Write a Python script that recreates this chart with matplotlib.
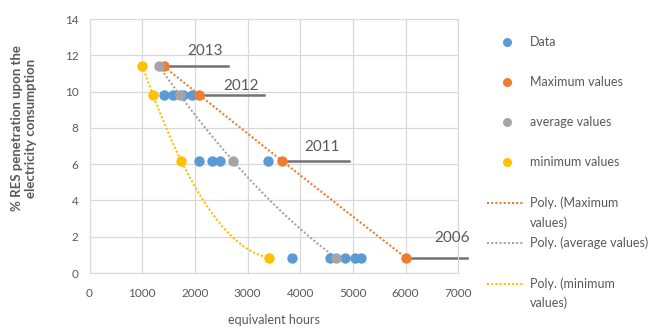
import numpy as np
import matplotlib.pyplot as plt
from matplotlib.lines import Line2D

plt.rcParams['font.family'] = ['Lato', 'DejaVu Sans']

# --- Data ---
data_x = [1420, 1591, 1780, 1951, 2078, 2330, 2482, 3381, 3843, 4564, 4848, 5044, 5152]
data_y = [9.8, 9.8, 9.8, 9.8, 6.2, 6.2, 6.2, 6.2, 0.85, 0.85, 0.85, 0.85, 0.85]

max_x = [1414, 2078, 3653, 6000]
max_y = [11.4, 9.8, 6.2, 0.85]
avg_x = [1319, 1717, 2717, 4671]
avg_y = [11.4, 9.8, 6.2, 0.85]
min_x = [1002, 1211, 1736, 3412]
min_y = [11.4, 9.8, 6.2, 0.85]

years = ['2013', '2012', '2011', '2006']
# end of leader line (x) and label centre for each year label
leader_end = [2622, 3311, 4924, 7163]
label_pos = [(2186, 12.25), (2871, 10.3), (4421, 6.95), (6873, 1.95)]

c_blue = '#5B9BD5'
c_orange = '#ED7D31'
c_gray = '#A5A5A5'
c_yellow = '#FFC000'
c_text = '#595959'

fig = plt.figure(figsize=(6.49, 3.29), dpi=100)
ax = fig.add_axes([89.5 / 649, 1 - 273 / 329, (458.3 - 89.5) / 649, (273 - 19) / 329])

# --- Polynomial (order 2) trendlines ---
for xs, ys, col in [(max_x, max_y, c_orange), (avg_x, avg_y, c_gray), (min_x, min_y, c_yellow)]:
    coef = np.polyfit(xs, ys, 2)
    xx = np.linspace(min(xs), max(xs), 200)
    ax.plot(xx, np.polyval(coef, xx), linestyle=(0, (1, 1)), color=col, lw=1.5, zorder=2)

# --- Year labels with leader lines ---
for yr, xe, (tx, ty), x0, y0 in zip(years, leader_end, label_pos, max_x, max_y):
    ax.plot([x0, xe], [y0, y0], color='#767171', lw=1.8, zorder=2, clip_on=False)
    ax.text(tx, ty, yr, color=c_text, fontsize=11, ha='center', va='center')

# --- Scatter series ---
ms = 7.5
ax.plot(data_x, data_y, 'o', color=c_blue, ms=ms, mec='none', zorder=3)
ax.plot(max_x, max_y, 'o', color=c_orange, ms=ms, mec='none', zorder=4)
ax.plot(avg_x, avg_y, 'o', color=c_gray, ms=ms, mec='none', zorder=4)
ax.plot(min_x, min_y, 'o', color=c_yellow, ms=ms, mec='none', zorder=4)

ax.set_xlim(0, 7000)
ax.set_ylim(0, 14)
ax.set_xticks(range(0, 7001, 1000))
ax.set_yticks(range(0, 15, 2))
ax.grid(True, color='#D9D9D9', lw=0.9)
ax.set_axisbelow(True)
for s in ax.spines.values():
    s.set_color('#D9D9D9')
ax.tick_params(length=0, colors=c_text, labelsize=8.5)
ax.tick_params(axis='x', pad=11)
ax.tick_params(axis='y', pad=8)

fig.text(274 / 649, 1 - 320 / 329, 'equivalent hours', color=c_text, fontsize=9,
         ha='center', va='center')
fig.text(24 / 649, 1 - 128 / 329, '% RES penetration upon the\nelectricity consumption',
         color=c_text, fontsize=9.5, fontweight='bold', rotation=90,
         ha='center', va='center', multialignment='center')

# --- Legend (drawn by hand to follow the original layout) ---
def fy(py):
    return 1 - py / 329

marker_entries = [('Data', c_blue, 41.7), ('Maximum values', c_orange, 82.3),
                  ('average values', c_gray, 122.3), ('minimum values', c_yellow, 162.3)]
for label, col, py in marker_entries:
    fig.add_artist(Line2D([507 / 649], [fy(py)], marker='o', color=col, ms=6.5, mec='none'))
    fig.text(530 / 649, fy(py), label, color=c_text, fontsize=9, va='center')

line_entries = [(['Poly. (Maximum', 'values)'], c_orange, 203),
                (['Poly. (average values)'], c_gray, 243),
                (['Poly. (minimum', 'values)'], c_yellow, 283.5)]
for lines, col, py in line_entries:
    fig.add_artist(Line2D([487 / 649, 524 / 649], [fy(py), fy(py)], color=col,
                          linestyle=(0, (1, 1)), lw=1.5))
    for i, t in enumerate(lines):
        fig.text(530 / 649, fy(py + i * 19.5), t, color=c_text, fontsize=9, va='center')

fig.savefig('out.png', dpi=100)
